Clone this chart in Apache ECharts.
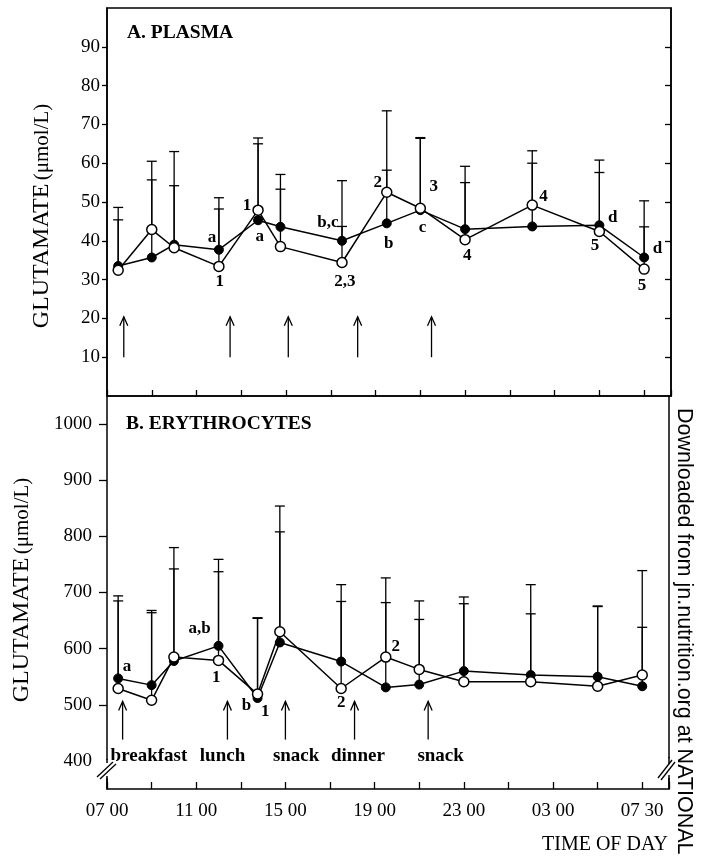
<!DOCTYPE html>
<html>
<head>
<meta charset="utf-8">
<script src="https://cdn.jsdelivr.net/npm/echarts@6/dist/echarts.min.js"></script>
<style>
html,body{margin:0;padding:0;background:#fff;}
#chart{width:709px;height:857px;}
</style>
</head>
<body>
<div id="chart"></div>
<script>
// ---------- data ----------
// sampling times in hours (07:00 = 7, next-day hours add 24)
const times = [7.5, 9, 10, 12, 13.75, 14.75, 17.5, 19.5, 21, 23, 26, 29, 31];

// A. Plasma glutamate (umol/L)
const plasmaFilled = [33.5, 35.7, 39.0, 37.7, 45.3, 43.6, 40.0, 44.5, 47.9, 43.0, 43.7, 44.0, 35.7];
const plasmaOpen   = [32.4, 42.9, 38.2, 33.4, 47.9, 38.5, 34.4, 52.5, 48.4, 40.3, 49.2, 42.4, 32.7];
const plasmaFilledUpper = [45.4, 55.7, 54.2, 48.2, 65.0, 53.3, 43.7, 58.2, 66.6, 55.0, 60.0, 57.6, 43.6];
const plasmaOpenUpper   = [48.6, 60.5, 63.0, 51.1, 66.5, 57.1, 55.5, 73.5, 66.4, 59.2, 63.2, 60.8, 50.3];

// B. Erythrocyte glutamate (umol/L)
const eryFilled = [547, 535, 578, 605, 512, 611, 577, 531, 536, 560, 553, 550, 533];
const eryOpen   = [529, 508, 585, 579, 519, 630, 529, 585, 563, 541, 541, 533, 553];
const eryFilledUpper = [685, 664, 742, 737, 654, 808, 684, 682, 652, 680, 662, 675, 638];
const eryOpenUpper   = [694, 668, 780, 759, 655, 854, 714, 726, 685, 692, 714, 676, 739];

// y tick labels
const plasmaTicks = [10, 20, 30, 40, 50, 60, 70, 80, 90];
const eryTicks = [400, 500, 600, 700, 800, 900, 1000];

// x tick labels
const xLabelValues = [7, 11, 15, 19, 23, 27, 31];
const xLabelTexts  = ['07 00', '11 00', '15 00', '19 00', '23 00', '03 00', '07 30'];

// meal arrows (time, from, to)
const plasmaArrowTimes = [7.75, 12.5, 15.1, 18.2, 21.5];
const plasmaArrowFrom = 10, plasmaArrowTo = 20.4;
const eryArrowTimes = [7.7, 12.4, 15.0, 18.1, 21.4];
const eryArrowFrom = 438, eryArrowTo = 506;

// meal labels
const mealNames = ['breakfast', 'lunch', 'snack', 'dinner', 'snack'];
const mealTimes = [8.88, 12.18, 15.48, 18.25, 21.96];
const mealLabelValue = 409;

// significance annotations
const plasmaAnnT = [11.69, 12.04, 13.25, 13.83, 16.87, 17.63, 19.1, 19.59, 21.6, 21.1, 23.1, 26.5, 29.6, 28.8, 31.6, 30.9];
const plasmaAnnV = [40.7, 29.4, 49.0, 41.2, 44.8, 29.4, 54.9, 39.2, 53.9, 43.3, 36.3, 51.3, 46.1, 38.7, 37.9, 28.4];
const plasmaAnnText = ['a', '1', '1', 'a', 'b,c', '2,3', '2', 'b', '3', 'c', '4', '4', 'd', '5', 'd', '5'];

const eryAnnT = [7.9, 11.15, 11.9, 13.25, 14.1, 17.5, 19.95];
const eryAnnV = [568, 635, 549, 499, 488, 504, 604];
const eryAnnText = ['a', 'a,b', '1', 'b', '1', '2', '2'];

// ---------- chart ----------
const SERIF = '"Liberation Serif", "DejaVu Serif", serif';
const chart = echarts.init(document.getElementById('chart'), null, {renderer: 'canvas'});

function pairs(xs, ys) { return xs.map((x, i) => [x, ys[i]]); }
function triples(xs, a, b) { return xs.map((x, i) => [x, a[i], b[i]]); }

function errorSeries(xi, yi, data) {
  return {
    type: 'custom', xAxisIndex: xi, yAxisIndex: yi, z: 1, silent: true,
    encode: {x: 0, y: [1, 2]},
    data: data,
    renderItem: function (params, api) {
      const x = api.value(0);
      const p0 = api.coord([x, api.value(1)]);
      const p1 = api.coord([x, api.value(2)]);
      const st = {stroke: '#000', lineWidth: 1.3};
      return {type: 'group', children: [
        {type: 'line', shape: {x1: p0[0], y1: p0[1], x2: p1[0], y2: p1[1]}, style: st},
        {type: 'line', shape: {x1: p1[0] - 5, y1: p1[1], x2: p1[0] + 5, y2: p1[1]}, style: st}
      ]};
    }
  };
}

function arrowSeries(xi, yi, tms, from, to) {
  return {
    type: 'custom', xAxisIndex: xi, yAxisIndex: yi, z: 1, silent: true,
    encode: {x: 0, y: [1, 2]},
    data: tms.map(t => [t, from, to]),
    renderItem: function (params, api) {
      const x = api.value(0);
      const p0 = api.coord([x, api.value(1)]);
      const p1 = api.coord([x, api.value(2)]);
      const st = {stroke: '#000', lineWidth: 1.3, fill: null};
      return {type: 'group', children: [
        {type: 'line', shape: {x1: p0[0], y1: p0[1], x2: p1[0], y2: p1[1]}, style: st},
        {type: 'polyline', shape: {points: [[p1[0] - 4, p1[1] + 9], [p1[0], p1[1]], [p1[0] + 4, p1[1] + 9]]}, style: st}
      ]};
    }
  };
}

function textSeries(xi, yi, ts, vs, texts, font) {
  return {
    type: 'custom', xAxisIndex: xi, yAxisIndex: yi, z: 5, silent: true,
    encode: {x: 0, y: 1},
    data: ts.map((t, i) => [t, vs[i]]),
    renderItem: function (params, api) {
      const p = api.coord([api.value(0), api.value(1)]);
      return {type: 'text', x: p[0], y: p[1], style: {
        text: texts[params.dataIndex], font: font, fill: '#000', align: 'center', verticalAlign: 'middle'}};
    }
  };
}

function lineSeries(xi, yi, data, open) {
  return {
    type: 'line', xAxisIndex: xi, yAxisIndex: yi, z: open ? 4 : 3,
    data: data, symbol: 'circle', symbolSize: open ? 10 : 9,
    lineStyle: {color: '#000', width: 1.5},
    itemStyle: open ? {color: '#fff', borderColor: '#000', borderWidth: 1.5} : {color: '#000', borderColor: '#000', borderWidth: 1},
    emphasis: {disabled: true}, animation: false
  };
}

const axisLineStyle = {show: true, lineStyle: {color: '#000', width: 1.5}};
const tickFont = {color: '#000', fontFamily: SERIF, fontSize: 19};

function yTitle(x, y) {
  return {type: 'text', x: x, y: y, rotation: Math.PI / 2,
    style: {
      text: '{a|GLUTAMATE} {b|(\u03bcmol/L)}',
      rich: {
        a: {fontFamily: SERIF, fontSize: 24, fill: '#000', color: '#000'},
        b: {fontFamily: SERIF, fontSize: 21, fill: '#000', color: '#000'}
      },
      fill: '#000', align: 'center', verticalAlign: 'middle'
    }};
}

const option = {
  animation: false,
  backgroundColor: '#fff',
  grid: [
    {left: 107, right: 38, top: 8, height: 388, show: true, borderColor: '#000', borderWidth: 1.5, backgroundColor: 'transparent'},
    {left: 107, right: 40, top: 396, height: 393, show: false}
  ],
  xAxis: [
    {type: 'value', gridIndex: 0, min: 7, max: 32.2, interval: 2, position: 'bottom',
     axisLine: axisLineStyle, axisTick: {show: true, inside: true, length: 6, lineStyle: {color: '#000', width: 1.3}},
     axisLabel: {show: false}, splitLine: {show: false}},
    {type: 'value', gridIndex: 1, min: 7, max: 32.2, interval: 2, position: 'bottom',
     axisLine: axisLineStyle, axisTick: {show: true, inside: true, length: 7, lineStyle: {color: '#000', width: 1.3}},
     axisLabel: {show: true, customValues: xLabelValues, margin: 13, ...tickFont,
       formatter: v => xLabelTexts[xLabelValues.indexOf(v)] || ''},
     splitLine: {show: false}}
  ],
  yAxis: [
    {type: 'value', gridIndex: 0, min: 0, max: 100, position: 'left',
     axisLine: axisLineStyle,
     axisTick: {show: true, customValues: plasmaTicks, length: 5, lineStyle: {color: '#000', width: 1.3}},
     axisLabel: {show: true, customValues: plasmaTicks, margin: 7, ...tickFont, formatter: v => String(v)},
     splitLine: {show: false}},
    {type: 'value', gridIndex: 0, min: 0, max: 100, position: 'right',
     axisLine: axisLineStyle,
     axisTick: {show: true, inside: true, customValues: plasmaTicks, length: 6, lineStyle: {color: '#000', width: 1.3}},
     axisLabel: {show: false}, splitLine: {show: false}},
    {type: 'value', gridIndex: 1, min: 350, max: 1050, position: 'left',
     axisLine: axisLineStyle,
     axisTick: {show: true, customValues: eryTicks, length: 8, lineStyle: {color: '#000', width: 1.3}},
     axisLabel: {show: true, customValues: eryTicks, margin: 15, ...tickFont, formatter: v => String(v)},
     splitLine: {show: false}},
    {type: 'value', gridIndex: 1, min: 350, max: 1050, position: 'right',
     axisLine: axisLineStyle, axisTick: {show: false}, axisLabel: {show: false}, splitLine: {show: false}}
  ],
  series: [
    errorSeries(0, 0, triples(times, plasmaFilled, plasmaFilledUpper)),
    errorSeries(0, 0, triples(times, plasmaOpen, plasmaOpenUpper)),
    arrowSeries(0, 0, plasmaArrowTimes, plasmaArrowFrom, plasmaArrowTo),
    lineSeries(0, 0, pairs(times, plasmaFilled), false),
    lineSeries(0, 0, pairs(times, plasmaOpen), true),
    textSeries(0, 0, plasmaAnnT, plasmaAnnV, plasmaAnnText, 'bold 17px ' + SERIF),

    errorSeries(1, 2, triples(times, eryFilled, eryFilledUpper)),
    errorSeries(1, 2, triples(times, eryOpen, eryOpenUpper)),
    arrowSeries(1, 2, eryArrowTimes, eryArrowFrom, eryArrowTo),
    lineSeries(1, 2, pairs(times, eryFilled), false),
    lineSeries(1, 2, pairs(times, eryOpen), true),
    textSeries(1, 2, eryAnnT, eryAnnV, eryAnnText, 'bold 17px ' + SERIF),
    textSeries(1, 2, mealTimes, mealTimes.map(() => mealLabelValue), mealNames, 'bold 19px ' + SERIF)
  ],
  graphic: [
    {type: 'text', left: 127, top: 23, style: {text: 'A. PLASMA', font: 'bold 19.5px ' + SERIF, fill: '#000'}},
    {type: 'text', left: 126, top: 414, style: {text: 'B. ERYTHROCYTES', font: 'bold 19.5px ' + SERIF, fill: '#000'}},
    yTitle(42, 216),
    yTitle(22, 590),
    {type: 'text', x: 605, y: 845,
     style: {text: 'TIME OF DAY', font: '20px ' + SERIF, fill: '#000', align: 'center', verticalAlign: 'middle'}},
    {type: 'text', x: 684, y: 408, rotation: -Math.PI / 2,
     style: {text: 'Downloaded from jn.nutrition.org at NATIONAL', font: '21.5px "Liberation Sans", Arial, sans-serif', fill: '#000', align: 'left', verticalAlign: 'middle'}},
    // axis break marks
    {type: 'rect', shape: {x: 96, y: 760, width: 20, height: 18}, style: {fill: '#fff'}, z: 100},
    {type: 'line', shape: {x1: 97, y1: 777, x2: 113, y2: 762}, style: {stroke: '#000', lineWidth: 1.3}, z: 101},
    {type: 'line', shape: {x1: 100, y1: 779, x2: 116, y2: 764}, style: {stroke: '#000', lineWidth: 1.3}, z: 101},
    {type: 'line', shape: {x1: 107, y1: 759, x2: 107, y2: 763}, style: {stroke: '#000', lineWidth: 1.5}, z: 101},
    {type: 'line', shape: {x1: 107, y1: 776, x2: 107, y2: 789}, style: {stroke: '#000', lineWidth: 1.5}, z: 101},
    {type: 'rect', shape: {x: 660, y: 758, width: 18, height: 20}, style: {fill: '#fff'}, z: 100},
    {type: 'line', shape: {x1: 658, y1: 778, x2: 672, y2: 760}, style: {stroke: '#000', lineWidth: 1.3}, z: 101},
    {type: 'line', shape: {x1: 661, y1: 780, x2: 675, y2: 762}, style: {stroke: '#000', lineWidth: 1.3}, z: 101},
    {type: 'line', shape: {x1: 669, y1: 757, x2: 669, y2: 764}, style: {stroke: '#000', lineWidth: 1.5}, z: 101},
    {type: 'line', shape: {x1: 669, y1: 775, x2: 669, y2: 789}, style: {stroke: '#000', lineWidth: 1.5}, z: 101}
  ]
};
chart.setOption(option);
</script>
</body>
</html>
